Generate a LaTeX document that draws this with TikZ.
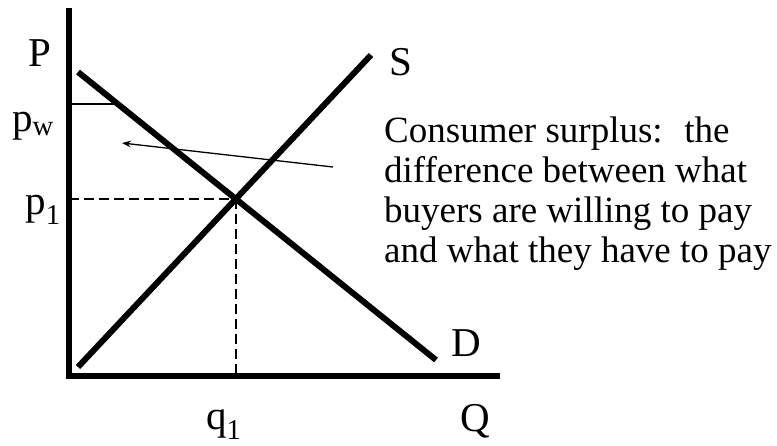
\documentclass[tikz,border=0pt]{standalone}
\usepackage{fontspec}
\setmainfont{Liberation Serif}
\usetikzlibrary{arrows.meta}

\begin{document}
\begin{tikzpicture}[>=Stealth, x=1pt, y=-1pt,
    every node/.style={font=\fontsize{37}{40}\selectfont, inner sep=0pt},
    axislabel/.style={font=\fontsize{41}{44}\selectfont},
    curve/.style={line width=6pt},
    guide/.style={line width=2.2pt, dash pattern=on 10pt off 5pt}]
    \useasboundingbox (0,0) rectangle (777,445);
    \coordinate (O) at (69,376);
    \coordinate (Ptop) at (69,8);
    \coordinate (Qend) at (500,376);
    \coordinate (D1) at (78,72);
    \coordinate (D2) at (436,360);
    \coordinate (S1) at (78,367);
    \coordinate (S2) at (371,55);
    \coordinate (E) at (intersection of D1--D2 and S1--S2);
    \coordinate (W) at (intersection of D1--D2 and 0,104--100,104);
    \coordinate (tail) at (333,167);
    \coordinate (head) at (122,143);

    \draw[line width=6pt] (Ptop) -- (O) -- (Qend);
    \draw[curve] (D1) -- (D2);
    \draw[curve] (S1) -- (S2);
    \draw[guide] (E -| O) -- (E);
    \draw[guide] (E) -- (E |- O);
    \draw[line width=2pt] (W -| O) -- (W);
    \draw[->, line width=1.3pt] (tail) -- (head);

    \node[axislabel, anchor=base east] (Plab) at (52,66) {P};
    \node[axislabel, anchor=base east] (pw) at (54,131) {p\textsubscript{w}};
    \node[axislabel, anchor=base east] (p1) at (61,214) {p\textsubscript{1}};
    \node[axislabel, anchor=base west] (q1) at (206,429) {q\textsubscript{1}};
    \node[axislabel, anchor=base west] (Qlab) at (460,431) {Q};
    \node[axislabel, anchor=base west] (Slab) at (389,75) {S};
    \node[axislabel, anchor=base west] (Dlab) at (451,356) {D};
    \node[anchor=north west, align=left] (note) at (384,117)
      {Consumer surplus:~ the\\difference between what\\buyers are willing to pay\\and what they have to pay};
\end{tikzpicture}
\end{document}
